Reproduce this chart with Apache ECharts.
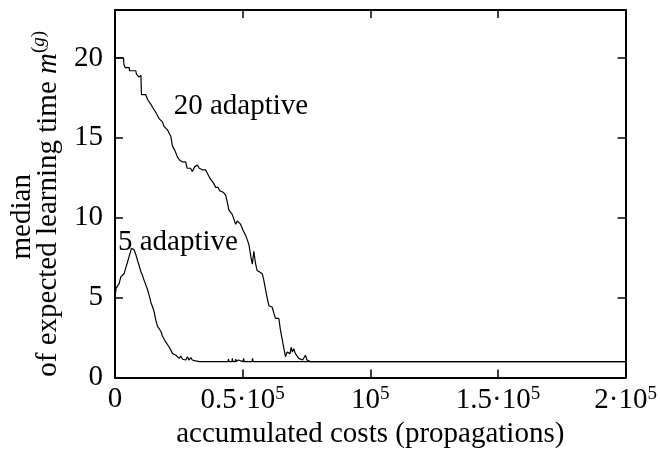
<!DOCTYPE html>
<html>
<head>
<meta charset="utf-8">
<script src="https://cdn.jsdelivr.net/npm/echarts@6/dist/echarts.min.js"></script>
<style>
  html, body { margin: 0; padding: 0; background: #fff; }
  #chart { width: 660px; height: 454px; }
</style>
</head>
<body>
<div id="chart"></div>
<script>
// x in thousands of propagations, y = median expected learning time
const adaptive20 = [
  [0, 20], [3.4, 20], [3.5, 19.6], [3.9, 19.6], [4.0, 19.4], [5.6, 19.4], [5.7, 19.2],
  [8.2, 19.2], [8.4, 19.0], [8.9, 19.0], [9.4, 18.8], [10.2, 18.9], [10.4, 17.7],
  [12.1, 17.7], [12.8, 17.4], [13.4, 17.3], [14.1, 17.1], [14.8, 16.9], [15.4, 16.9],
  [16.0, 16.6], [16.7, 16.7], [17.3, 16.2], [18.0, 16.1], [18.6, 16.0], [19.3, 15.7],
  [19.9, 15.8], [20.6, 15.5], [21.2, 15.3], [21.9, 15.1], [22.5, 14.5], [23.0, 14.4],
  [23.5, 14.2], [24.5, 13.8], [25.4, 13.6], [26.4, 13.5], [27.0, 13.6], [27.7, 13.5],
  [28.3, 13.1], [29.0, 13.0], [29.6, 13.1], [30.3, 12.9], [31.3, 13.2], [32.3, 13.3],
  [33.0, 13.1], [33.6, 13.2], [34.3, 13.0], [34.9, 12.9], [35.5, 13.0], [36.2, 12.9],
  [36.8, 12.6], [37.5, 12.4], [38.0, 12.5], [38.5, 12.2], [39.5, 11.9], [40.4, 11.9],
  [41.0, 11.7], [41.4, 11.8], [42.4, 11.6], [43.4, 11.4], [44.0, 11.0], [44.6, 10.5],
  [45.3, 10.4], [46.0, 10.2], [46.6, 9.9], [47.3, 9.6], [47.9, 9.8], [48.3, 9.7],
  [49.2, 9.6], [50.2, 9.2], [50.7, 9.3], [51.2, 8.9], [51.9, 8.6], [52.5, 8.3],
  [53.2, 7.6], [53.8, 7.1], [54.4, 7.9], [55.0, 7.2], [55.7, 6.7], [56.7, 6.6],
  [57.7, 6.5], [58.3, 6.1], [59.0, 5.5], [59.6, 5.0], [60.3, 4.5], [61.0, 4.6],
  [61.6, 4.4], [62.3, 4.0], [62.9, 3.7], [63.5, 3.8], [64.2, 3.7], [64.8, 3.0],
  [65.5, 2.4], [66.2, 1.8], [66.8, 1.3], [67.4, 1.6], [68.0, 1.7], [68.6, 1.5],
  [69.0, 1.9], [69.5, 1.6], [70.0, 1.8], [70.7, 1.5], [71.4, 1.4], [72.0, 1.2],
  [72.7, 1.3], [73.5, 1.1], [74.0, 1.2], [74.6, 1.4], [75.2, 1.1], [75.9, 1.2],
  [76.6, 1.0], [77.2, 1.1], [77.8, 1.0], [95.0, 1.0], [95.2, 1.1], [95.4, 1.0], [200, 1.0]
];

const adaptive5 = [
  [0, 5.0], [0.5, 5.6], [1.0, 5.5], [1.7, 5.9], [2.3, 6.3], [2.8, 6.2], [3.6, 6.5],
  [4.3, 6.9], [4.9, 7.2], [5.6, 7.6], [6.5, 8.1], [7.0, 8.2], [7.5, 8.0], [8.2, 7.7],
  [8.9, 7.3], [9.5, 7.0], [10.2, 6.6], [10.8, 6.4], [11.4, 6.1], [12.1, 5.8], [12.8, 5.5],
  [13.5, 5.1], [14.1, 4.7], [14.8, 4.4], [15.4, 4.1], [16.0, 3.6], [16.7, 3.2],
  [17.3, 3.1], [18.0, 2.9], [18.6, 2.6], [19.3, 2.4], [20.0, 2.2], [20.6, 2.1],
  [21.3, 1.9], [21.9, 1.8], [22.6, 1.5], [23.2, 1.4], [23.9, 1.4], [24.5, 1.3],
  [25.2, 1.2], [25.8, 1.35], [26.5, 1.15], [27.1, 1.25], [27.8, 1.1], [28.4, 1.3],
  [29.0, 1.1], [29.7, 1.25], [30.3, 1.1], [30.9, 1.2], [31.6, 1.05], [32.3, 1.15],
  [33.0, 1.0], [33.6, 1.1], [34.2, 1.0], [37.3, 1.0], [37.5, 1.1], [37.7, 1.0],
  [40.4, 1.0], [40.6, 1.1], [40.8, 1.0], [44.3, 1.0], [44.5, 1.15], [44.7, 1.0],
  [45.8, 1.0], [46.0, 1.2], [46.2, 1.0], [47.1, 1.0], [47.3, 1.15], [47.5, 1.0],
  [48.2, 1.0], [48.4, 1.1], [48.6, 1.0], [50.2, 1.0], [50.4, 1.2], [50.6, 1.0],
  [51.8, 1.0], [52.0, 1.1], [52.2, 1.0], [53.7, 1.0], [53.9, 1.2], [54.1, 1.0], [200, 1.0]
];

// label anchors (left edge, vertical middle) in data units
const label20At = [23, 17.0];
const label5At = [1.2, 8.45];

const xTickLabels = { 0: '0', 50: '0.5·10{sup|5}', 100: '10{sup|5}', 150: '1.5·10{sup|5}', 200: '2·10{sup|5}' };
const yTickValues = [0, 5, 10, 15, 20];

const FONT = 'Liberation Serif';
const FS = 29;
const supStyle = { fontFamily: FONT, fontSize: 19, color: '#000', verticalAlign: 'bottom', padding: [0, 0, 13, 0] };

const frame = { show: true, onZero: false, lineStyle: { color: '#000', width: 2 } };
const ticks = { show: true, inside: true, length: 8, lineStyle: { color: '#000', width: 1.5 } };

const chart = echarts.init(document.getElementById('chart'));

function adaptiveLabel(text, at) {
  return {
    symbol: 'circle',
    symbolSize: 0,
    label: {
      show: true,
      position: 'right',
      distance: 0,
      formatter: text,
      fontFamily: FONT,
      fontSize: FS,
      color: '#000'
    },
    data: [{ coord: at }]
  };
}

const option = {
  animation: false,
  backgroundColor: '#fff',
  grid: { left: 114, right: 34, top: 10, bottom: 67 },
  xAxis: [
    {
      type: 'value', min: 0, max: 200, interval: 50, position: 'bottom',
      axisLine: frame, axisTick: ticks, splitLine: { show: false },
      axisLabel: {
        margin: 7, fontFamily: FONT, fontSize: FS, color: '#000',
        formatter: v => xTickLabels[v] || '',
        rich: { sup: supStyle }
      },
      name: 'accumulated costs (propagations)',
      nameLocation: 'middle', nameGap: 40,
      nameTextStyle: { fontFamily: FONT, fontSize: FS, color: '#000' }
    },
    {
      type: 'value', min: 0, max: 200, interval: 50, position: 'top',
      axisLine: frame, axisTick: ticks, axisLabel: { show: false }, splitLine: { show: false }
    }
  ],
  yAxis: [
    {
      type: 'value', min: 0, max: 23, interval: 5, position: 'left',
      axisLine: frame, axisTick: ticks, splitLine: { show: false },
      axisLabel: {
        margin: 12, fontFamily: FONT, fontSize: FS, color: '#000',
        formatter: v => (yTickValues.indexOf(v) >= 0 ? String(v) : '')
      },
      name: '{med|median}\nof expected learning time {i|m}{sup|(}{supi|g}{sup|)}',
      nameLocation: 'middle', nameGap: 50, nameRotate: 90,
      nameTextStyle: {
        fontFamily: FONT, fontSize: FS, color: '#000', lineHeight: 26, align: 'center',
        padding: [0, 20, 0, 0],
        rich: {
          med: { fontFamily: FONT, fontSize: FS, color: '#000', padding: [0, 26, 0, 0] },
          i: { fontFamily: FONT, fontSize: FS, fontStyle: 'italic', color: '#000' },
          sup: supStyle,
          supi: Object.assign({}, supStyle, { fontStyle: 'italic' })
        }
      }
    },
    {
      type: 'value', min: 0, max: 23, interval: 5, position: 'right',
      axisLine: frame, axisTick: ticks, axisLabel: { show: false }, splitLine: { show: false }
    }
  ],
  series: [
    {
      name: '20 adaptive', type: 'line', data: adaptive20,
      showSymbol: false, silent: true,
      lineStyle: { color: '#000', width: 1.2 },
      markPoint: adaptiveLabel('20 adaptive', label20At)
    },
    {
      name: '5 adaptive', type: 'line', data: adaptive5,
      showSymbol: false, silent: true,
      lineStyle: { color: '#000', width: 1.2 },
      markPoint: adaptiveLabel('5 adaptive', label5At)
    }
  ]
};

chart.setOption(option);
</script>
</body>
</html>
